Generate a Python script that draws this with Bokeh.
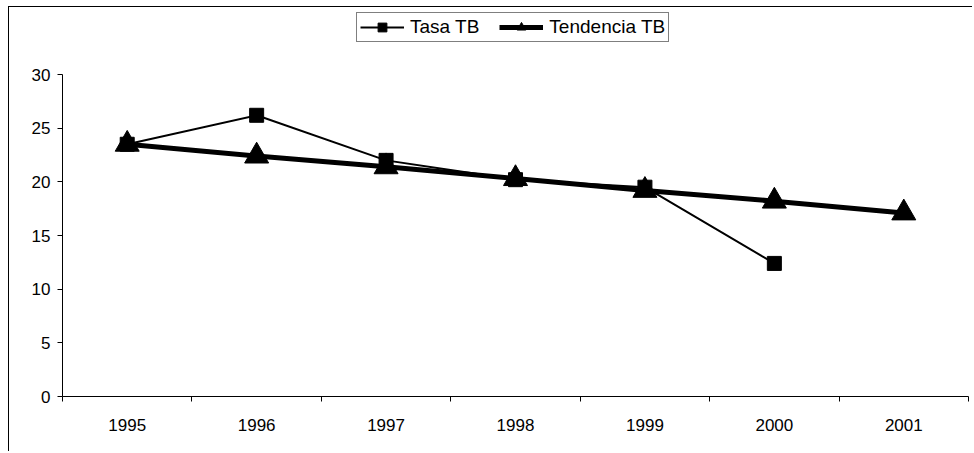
from bokeh.plotting import figure
from bokeh.models import Range1d, FixedTicker, Legend, LegendItem, ColumnDataSource
from bokeh.embed import file_html
from bokeh.resources import INLINE

years = ["1995", "1996", "1997", "1998", "1999", "2000", "2001"]
tasa_tb = [23.5, 26.2, 22.0, 20.2, 19.5, 12.4]
tendencia_tb = [23.5, 22.4, 21.4, 20.3, 19.2, 18.2, 17.1]
y_ticks = [0, 5, 10, 15, 20, 25, 30]
y_max = 30

FONT = "Liberation Sans"

# layout (pixels): frame spans from canvas top to the x axis; axis itself covers 0..30
H = 445
BOTTOM = 56
AXIS_PX = 322              # pixel height of the 0..30 span
frame_px = H - BOTTOM
y_end = y_max * frame_px / AXIS_PX

x_centers = [i + 0.5 for i in range(len(years))]
src_tasa = ColumnDataSource(dict(x=x_centers[:len(tasa_tb)], y=tasa_tb))
src_tend = ColumnDataSource(dict(x=x_centers[:len(tendencia_tb)], y=tendencia_tb))

p = figure(width=964, height=H, output_backend="svg", toolbar_location=None,
           x_range=Range1d(0, len(years)), y_range=Range1d(0, y_end),
           min_border_left=53, min_border_top=0, min_border_right=5, min_border_bottom=BOTTOM)
p.styles = {"margin-left": "8px", "margin-top": "6px",
            "border-left": "1px solid black", "border-top": "1px solid black"}
p.outline_line_color = None
p.xgrid.grid_line_color = None
p.ygrid.grid_line_color = None
p.background_fill_color = "white"
p.border_fill_color = "white"

# x axis
p.xaxis.ticker = FixedTicker(ticks=x_centers, minor_ticks=list(range(len(years) + 1)))
p.xaxis.major_label_overrides = {c: y for c, y in zip(x_centers, years)}
p.xaxis.major_tick_out = 0
p.xaxis.major_tick_in = 0
p.xaxis.minor_tick_out = 5
p.xaxis.minor_tick_in = 0
p.xaxis.minor_tick_line_color = "black"
p.xaxis.major_label_standoff = 17
# y axis
p.yaxis.ticker = FixedTicker(ticks=y_ticks)
p.yaxis.bounds = (0, y_max)
p.yaxis.major_tick_out = 5
p.yaxis.major_tick_in = 0
p.yaxis.minor_tick_line_color = None
p.yaxis.major_label_standoff = 7
for ax in (p.xaxis, p.yaxis):
    ax.axis_line_color = "black"
    ax.major_tick_line_color = "black"
    ax.major_label_text_font = FONT
    ax.major_label_text_font_size = "17px"
    ax.major_label_text_color = "black"

l1 = p.line("x", "y", source=src_tasa, line_color="black", line_width=2)
m1 = p.scatter("x", "y", source=src_tasa, marker="square", size=14, fill_color="black", line_color="black")
l2 = p.line("x", "y", source=src_tend, line_color="black", line_width=5)
m2 = p.scatter("x", "y", source=src_tend, marker="triangle", size=24, fill_color="black", line_color="black")

legend = Legend(items=[LegendItem(label="Tasa TB", renderers=[l1, m1]),
                       LegendItem(label="Tendencia TB", renderers=[l2, m2])],
                location=(294, 354), orientation="horizontal",
                label_text_font=FONT, label_text_font_size="19px", label_text_color="black",
                glyph_width=44, glyph_height=22, label_standoff=6, spacing=20, padding=3,
                margin=0, border_line_color="black", border_line_width=1,
                background_fill_alpha=1)
p.add_layout(legend, "center")

open("out.html", "w").write(file_html(p, INLINE))
